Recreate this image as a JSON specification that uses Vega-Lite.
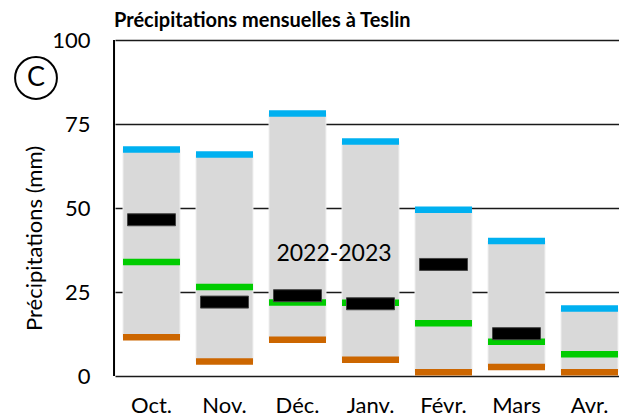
{
  "$schema": "https://vega.github.io/schema/vega-lite/v6.json",
  "autosize": {"type": "none"},
  "padding": {"left": 114, "top": 40, "right": 0, "bottom": 43},
  "width": 505,
  "height": 336,
  "background": "white",
  "config": {
    "font": "Lato",
    "view": {"stroke": null}
  },
  "title": {
    "text": "Précipitations mensuelles à Teslin",
    "anchor": "start",
    "frame": "group",
    "fontSize": 20,
    "fontWeight": "bold",
    "font": "Lato",
    "color": "black",
    "offset": 8,
    "dy": 10
  },
  "datasets": {
    "mois": [
      {"mois": "Oct.", "min": 11.5, "max": 67.4, "mediane": 33.9, "actuel": 46.5},
      {"mois": "Nov.", "min": 4.3, "max": 65.9, "mediane": 26.5, "actuel": 22.0},
      {"mois": "Déc.", "min": 10.8, "max": 78.1, "mediane": 21.9, "actuel": 23.9},
      {"mois": "Janv.", "min": 4.8, "max": 69.8, "mediane": 21.8, "actuel": 21.5},
      {"mois": "Févr.", "min": 1.1, "max": 49.5, "mediane": 15.7, "actuel": 33.2},
      {"mois": "Mars", "min": 2.7, "max": 40.2, "mediane": 10.2, "actuel": 12.6},
      {"mois": "Avr.", "min": 1.1, "max": 20.1, "mediane": 6.5, "actuel": null}
    ],
    "annot": [
      {"mois": "Déc.", "y": 36.3, "label": "2022-2023"}
    ],
    "lettre": [
      {"mois": "Oct.", "y": 88.7, "label": "C"}
    ]
  },
  "encoding": {
    "x": {
      "field": "mois",
      "type": "nominal",
      "sort": null,
      "scale": {"domain": ["Oct.", "Nov.", "Déc.", "Janv.", "Févr.", "Mars", "Avr."], "range": [1, 512], "paddingInner": 0.22, "paddingOuter": 0.11},
      "axis": {
        "title": null,
        "labelAngle": 0,
        "labelFontSize": 22,
        "labelColor": "black",
        "labelPadding": 19,
        "ticks": false,
        "domain": false,
        "grid": false
      }
    }
  },
  "layer": [
    {
      "data": {"name": "mois"},
      "mark": {"type": "bar", "color": "#d9d9d9", "stroke": "#eeeeee", "strokeWidth": 1},
      "encoding": {
        "y": {
          "field": "min",
          "type": "quantitative",
          "scale": {"domain": [0, 100], "nice": false},
          "axis": {
            "title": "Précipitations (mm)",
            "titleFontSize": 22,
            "titleFontWeight": "normal",
            "titleColor": "black",
            "titleAngle": -90,
            "titleBaseline": "alphabetic",
            "titleAlign": "center",
            "titleX": -73,
            "titleY": 198,
            "values": [0, 25, 50, 75, 100],
            "labelFontSize": 22,
            "labelColor": "black",
            "labelPadding": 24,
            "ticks": false,
            "domain": false,
            "grid": true,
            "gridColor": "#1a1a1a",
            "gridWidth": 1.5,
            "gridOpacity": 1
          }
        },
        "y2": {"field": "max"}
      }
    },
    {
      "data": {"name": "mois"},
      "mark": {"type": "tick", "color": "#cc6600", "thickness": 6.5, "size": 57, "opacity": 1},
      "encoding": {"y": {"field": "min", "type": "quantitative"}}
    },
    {
      "data": {"name": "mois"},
      "mark": {"type": "tick", "color": "#00b0f0", "thickness": 6.5, "size": 57, "opacity": 1},
      "encoding": {"y": {"field": "max", "type": "quantitative"}}
    },
    {
      "data": {"name": "mois"},
      "mark": {"type": "tick", "color": "#00cc00", "thickness": 6.5, "size": 57, "opacity": 1},
      "encoding": {"y": {"field": "mediane", "type": "quantitative"}}
    },
    {
      "data": {"name": "mois"},
      "transform": [{"filter": "datum.actuel != null"}],
      "mark": {"type": "tick", "color": "black", "stroke": "#444444", "strokeWidth": 1, "thickness": 12, "size": 48, "opacity": 1},
      "encoding": {"y": {"field": "actuel", "type": "quantitative"}}
    },
    {
      "data": {"name": "annot"},
      "mark": {"type": "text", "fontSize": 23, "color": "black", "dx": 36.5, "baseline": "middle", "align": "center"},
      "encoding": {
        "y": {"field": "y", "type": "quantitative"},
        "text": {"field": "label"}
      }
    },
    {
      "data": {"name": "lettre"},
      "mark": {"type": "point", "shape": "circle", "filled": false, "stroke": "black", "strokeWidth": 2, "size": 1750, "xOffset": -115.5, "opacity": 1},
      "encoding": {
        "y": {"field": "y", "type": "quantitative"}
      }
    },
    {
      "data": {"name": "lettre"},
      "mark": {"type": "text", "fontSize": 27, "color": "black", "dx": -115.5, "baseline": "middle", "align": "center"},
      "encoding": {
        "y": {"field": "y", "type": "quantitative"},
        "text": {"field": "label"}
      }
    },
    {
      "data": {"values": [{}]},
      "mark": {"type": "rule", "color": "black", "strokeWidth": 2},
      "encoding": {"y": {"datum": 0}}
    },
    {
      "data": {"values": [{}]},
      "mark": {"type": "rule", "color": "black", "strokeWidth": 2},
      "encoding": {"x": {"datum": "Oct.", "bandPosition": 0}, "xOffset": {"value": -9}}
    }
  ]
}
